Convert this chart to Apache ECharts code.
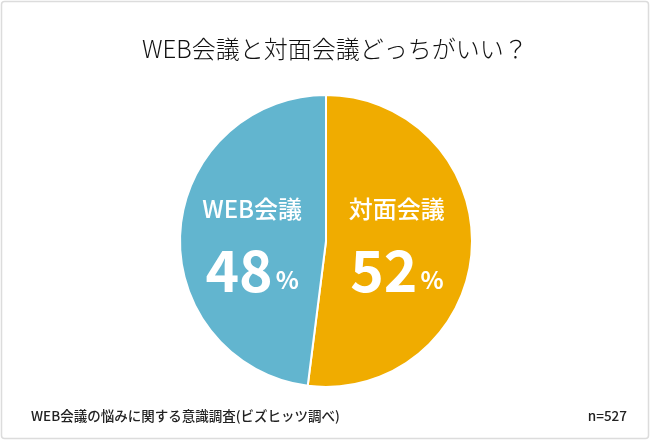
<!DOCTYPE html>
<html><head><meta charset="utf-8">
<script src="https://cdn.jsdelivr.net/npm/echarts@6/dist/echarts.min.js"></script>
<style>html,body{margin:0;padding:0;background:#fff}#c{width:650px;height:440px}</style>
</head><body><div id="c"></div>
<script>
const categories = ['対面会議', 'WEB会議'];
const values = [52, 48];
const colors = ['#F0AC00', '#62B5CF'];
const titleText = 'WEB会議と対面会議どっちがいい？';
const sourceText = 'WEB会議の悩みに関する意識調査(ビズヒッツ調べ)';
const sampleText = 'n=527';

const chart = echarts.init(document.getElementById('c'), null, {renderer: 'canvas'});
const ff = '"Noto Sans CJK JP", "Noto Sans", sans-serif';
chart.setOption({
  animation: false,
  backgroundColor: '#fff',
  title: {
    text: titleText, left: 137, top: 32,
    textStyle: {fontFamily: ff, fontSize: 24, fontWeight: 300, color: '#111'}
  },
  graphic: [
    {type: 'rect', shape: {x: 1.5, y: 1.5, width: 647, height: 437, r: 3}, style: {fill: 'none', stroke: '#dcdcdc', lineWidth: 1.5}, z: 100},
    {type: 'text', left: 31, top: 409, style: {text: sourceText, fontFamily: ff, fontSize: 13.5, fontWeight: 500, fill: '#222'}},
    {type: 'text', right: 23, top: 409, style: {text: sampleText, fontFamily: ff, fontSize: 13.5, fontWeight: 500, fill: '#222'}}
  ],
  series: [{
    type: 'pie',
    center: [326, 241],
    radius: [0, 146],
    startAngle: 90,
    clockwise: true,
    data: categories.map((c, i) => ({name: c, value: values[i], itemStyle: {color: colors[i]}})),
    itemStyle: {borderColor: '#fff', borderWidth: 2},
    label: {
      show: true, position: 'inside',
      formatter: p => '{n|' + p.name + '}\n{v|' + p.value + '}{p|%}',
      rich: {
        n: {fontFamily: ff, fontSize: 24, fontWeight: 500, color: '#fff', lineHeight: 58, align: 'center'},
        v: {fontFamily: ff, fontSize: 57, fontWeight: 'bold', color: '#fff', lineHeight: 64},
        p: {fontFamily: ff, fontSize: 24, fontWeight: 'bold', color: '#fff', lineHeight: 64, verticalAlign: 'bottom', padding: [0,0,10,3]}
      }
    },
    labelLayout: p => ({y: 241, dx: p.dataIndex === 0 ? -5 : 2}),
    labelLine: {show: false},
    emphasis: {disabled: true}
  }]
});
</script></body></html>
